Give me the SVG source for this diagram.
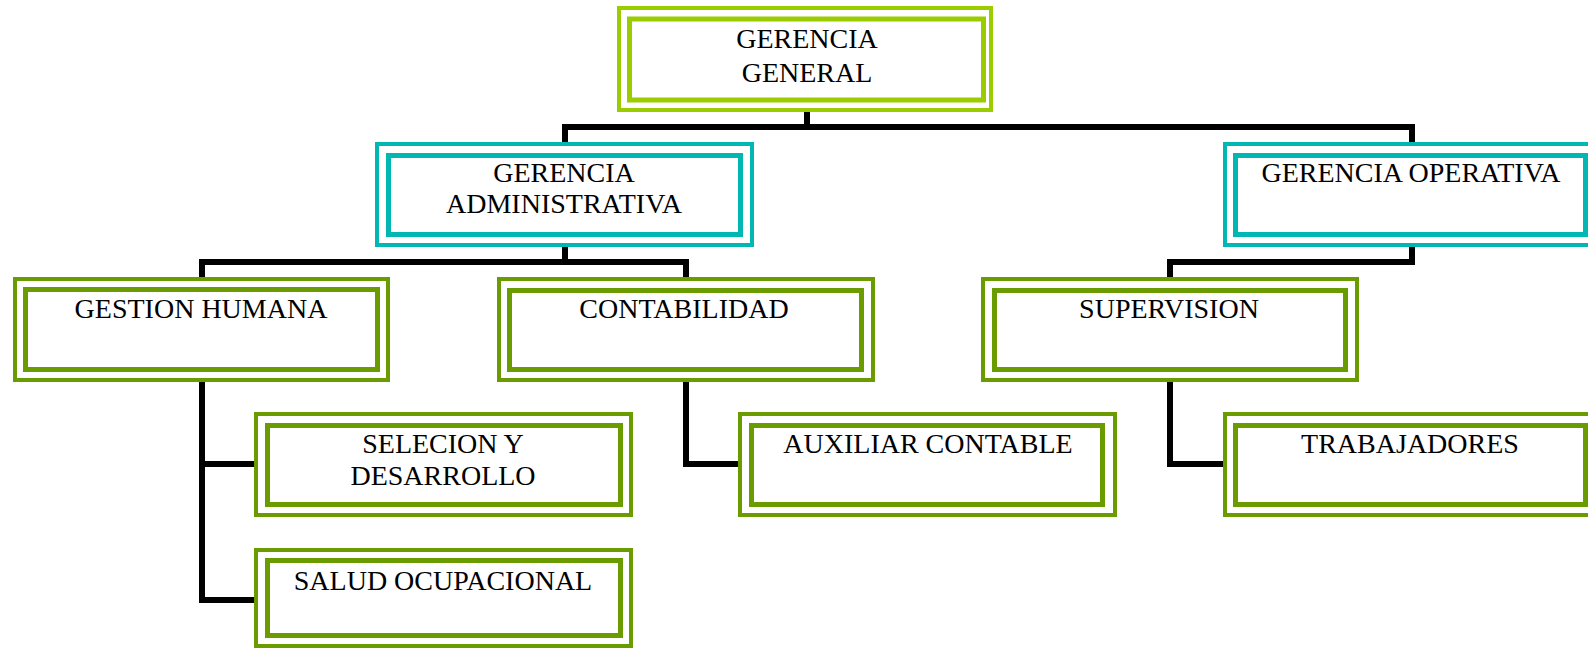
<svg xmlns="http://www.w3.org/2000/svg" width="1588" height="650" viewBox="0 0 1588 650">
<style>
  .o { fill: #ffffff; stroke-width: 4; }
  .i { fill: #ffffff; stroke-width: 5; }
  .lg { stroke: #9BCC00; }
  .tl { stroke: #00B7B3; }
  .dg { stroke: #6A9C00; }
  .t { font-family: "Liberation Serif", "Times New Roman", serif; font-size: 28px; fill: #000000; text-anchor: middle; }
  .c { fill: none; stroke: #000000; stroke-width: 6; stroke-linejoin: miter; stroke-linecap: square; }
</style>
<rect width="1588" height="650" fill="#ffffff"/>
<g id="connectors">
  <path class="c" d="M807 112 V127 M565 142 V127 H1412 V142"/>
  <path class="c" d="M565 247 V262 M202 277 V262 H686 V277"/>
  <path class="c" d="M1412 247 V262 H1170 V277"/>
  <path class="c" d="M202 382 V600 H251 M202 464 H251"/>
  <path class="c" d="M686 382 V464 H735"/>
  <path class="c" d="M1170 382 V464 H1220"/>
</g>
<g id="gerencia-general">
  <rect class="o lg" x="619" y="8" width="372" height="102"/>
  <rect class="i lg" x="629.5" y="19" width="354" height="81"/>
  <text class="t" x="807" y="48">GERENCIA</text>
  <text class="t" x="807" y="82">GENERAL</text>
</g>
<g id="gerencia-administrativa">
  <rect class="o tl" x="377" y="144" width="375" height="101"/>
  <rect class="i tl" x="388.5" y="155.5" width="352" height="79"/>
  <text class="t" x="564" y="182">GERENCIA</text>
  <text class="t" x="564" y="213">ADMINISTRATIVA</text>
</g>
<g id="gerencia-operativa">
  <rect class="o tl" x="1225" y="144" width="371" height="101"/>
  <rect class="i tl" x="1235.5" y="155.5" width="350" height="79"/>
  <text class="t" x="1411" y="182">GERENCIA OPERATIVA</text>
</g>
<g id="gestion-humana">
  <rect class="o dg" x="15" y="279" width="373" height="101"/>
  <rect class="i dg" x="25.5" y="289.5" width="352" height="80"/>
  <text class="t" x="201" y="318">GESTION HUMANA</text>
</g>
<g id="contabilidad">
  <rect class="o dg" x="499" y="279" width="374" height="101"/>
  <rect class="i dg" x="509.5" y="290.5" width="352" height="79"/>
  <text class="t" x="684" y="318">CONTABILIDAD</text>
</g>
<g id="supervision">
  <rect class="o dg" x="983" y="279" width="374" height="101"/>
  <rect class="i dg" x="994.5" y="290.5" width="351" height="79"/>
  <text class="t" x="1169" y="318">SUPERVISION</text>
</g>
<g id="seleccion-desarrollo">
  <rect class="o dg" x="256" y="414" width="375" height="101"/>
  <rect class="i dg" x="267.5" y="425.5" width="353" height="79"/>
  <text class="t" x="443" y="453">SELECION Y</text>
  <text class="t" x="443" y="485">DESARROLLO</text>
</g>
<g id="salud-ocupacional">
  <rect class="o dg" x="256" y="550" width="375" height="96"/>
  <rect class="i dg" x="267.5" y="560.5" width="353" height="75"/>
  <text class="t" x="443" y="590">SALUD OCUPACIONAL</text>
</g>
<g id="auxiliar-contable">
  <rect class="o dg" x="740" y="414" width="375" height="101"/>
  <rect class="i dg" x="751.5" y="425.5" width="351" height="79"/>
  <text class="t" x="928" y="453">AUXILIAR CONTABLE</text>
</g>
<g id="trabajadores">
  <rect class="o dg" x="1225" y="414" width="371" height="101"/>
  <rect class="i dg" x="1235.5" y="425.5" width="350" height="79"/>
  <text class="t" x="1410" y="453">TRABAJADORES</text>
</g>
</svg>
